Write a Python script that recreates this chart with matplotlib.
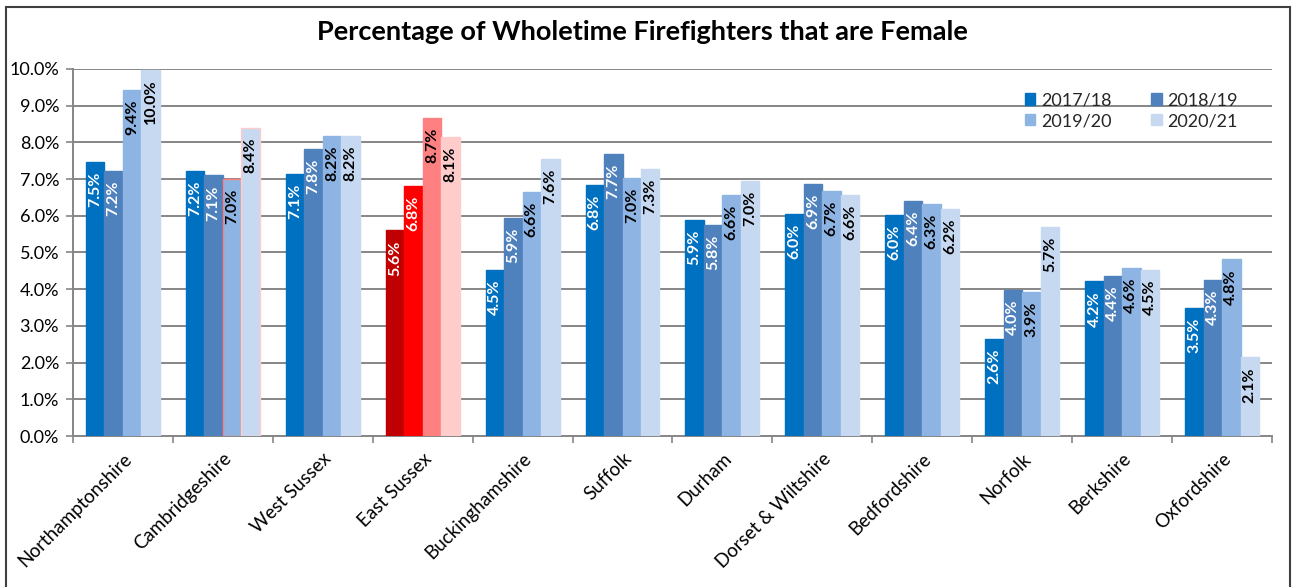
import numpy as np
import matplotlib.pyplot as plt
from matplotlib.patches import Rectangle
from matplotlib.ticker import PercentFormatter, FixedLocator

plt.rcParams['font.family'] = ['Lato', 'DejaVu Sans']

# ============================
# Datos
# ============================
services = ["Northamptonshire", "Cambridgeshire", "West Sussex", "East Sussex",
            "Buckinghamshire", "Suffolk", "Durham", "Dorset & Wiltshire",
            "Bedfordshire", "Norfolk", "Berkshire", "Oxfordshire"]
years = ["2017/18", "2018/19", "2019/20", "2020/21"]

pct_2017 = [7.47, 7.23, 7.14, 5.60, 4.53, 6.83, 5.88, 6.04, 6.02, 2.64, 4.21, 3.48]
pct_2018 = [7.23, 7.10, 7.82, 6.82, 5.93, 7.68, 5.76, 6.87, 6.40, 3.99, 4.37, 4.26]
pct_2019 = [9.44, 7.00, 8.17, 8.66, 6.64, 7.04, 6.58, 6.68, 6.33, 3.93, 4.58, 4.81]
pct_2020 = [9.97, 8.40, 8.17, 8.14, 7.56, 7.28, 6.96, 6.58, 6.18, 5.70, 4.53, 2.14]

highlight = "East Sussex"

blues = ["#0070C0", "#4F81BD", "#8EB4E3", "#C6D9F1"]
reds = ["#C00000", "#FF0000", "#FF8080", "#FFCCCC"]
label_colors = ["white", "white", "black", "black"]

# ============================
# Figura
# ============================
fig = plt.figure(figsize=(12.92, 5.87), dpi=100)
ax = fig.add_axes([0.0565, 0.2572, 0.928, 0.6253])

x = np.arange(len(services))
w = 0.185
series = [pct_2017, pct_2018, pct_2019, pct_2020]
handles = []

for j, vals in enumerate(series):
    offs = (j - 1.5) * w
    cols = [reds[j] if s == highlight else blues[j] for s in services]
    edges = list(cols)
    # en el original, dos barras de Cambridgeshire tienen borde rojizo
    if j == 2:
        edges[1] = "#FF8080"
    if j == 3:
        edges[1] = "#FFCCCC"
    bars = ax.bar(x + offs, np.array(vals) / 100, width=w, color=cols,
                  edgecolor=edges, linewidth=1.0, zorder=3, label=years[j])
    handles.append(bars)
    for b, v in zip(bars, vals):
        ax.annotate(f"{v:.1f}%", (b.get_x() + b.get_width() / 2, b.get_height()),
                    xytext=(0, -7), textcoords="offset points",
                    ha="center", va="top", rotation=90, fontsize=11.5,
                    fontweight="bold", color=label_colors[j], zorder=4)

ax.set_ylim(0, 0.10)
ax.set_xlim(-0.5, len(services) - 0.5)
ax.set_yticks(np.arange(0, 0.101, 0.01))
ax.yaxis.set_major_formatter(PercentFormatter(1.0, decimals=1))
ax.grid(axis="y", color="#868686", linewidth=1.4, zorder=0)

ax.set_xticks(x)
ax.set_xticklabels(services, rotation=45, ha="right", rotation_mode="anchor",
                   fontsize=13.5)
ax.xaxis.set_minor_locator(FixedLocator(np.arange(-0.5, len(services), 1)))
ax.tick_params(axis="x", which="major", length=0, pad=10)
ax.tick_params(axis="x", which="minor", length=5, color="#868686", width=1.2)
ax.tick_params(axis="y", length=5, color="#868686", width=1.2, labelsize=13, pad=5)

for side in ["top", "right"]:
    ax.spines[side].set_visible(False)
for side in ["left", "bottom"]:
    ax.spines[side].set_color("#868686")
    ax.spines[side].set_linewidth(1.4)

# Leyenda en filas (orden como Excel)
leg = ax.legend([handles[i] for i in [0, 2, 1, 3]], [years[i] for i in [0, 2, 1, 3]],
                ncol=2, loc="upper right", bbox_to_anchor=(0.985, 0.98),
                frameon=False, fontsize=13, handlelength=0.6, handleheight=0.6,
                handletextpad=0.3, columnspacing=2.2, labelspacing=0.25)
for t in leg.get_texts():
    t.set_color("#262626")

fig.text(0.497, 0.945, "Percentage of Wholetime Firefighters that are Female",
         ha="center", va="center", fontsize=19.5, fontweight="bold")

# Marco exterior
fig.patches.append(Rectangle((6 / 1292, -0.02), 1284 / 1292, 1 - 7 / 587 + 0.02,
                             transform=fig.transFigure, fill=False,
                             edgecolor="#404040", linewidth=1.5))

fig.savefig("out.png", dpi=100)
